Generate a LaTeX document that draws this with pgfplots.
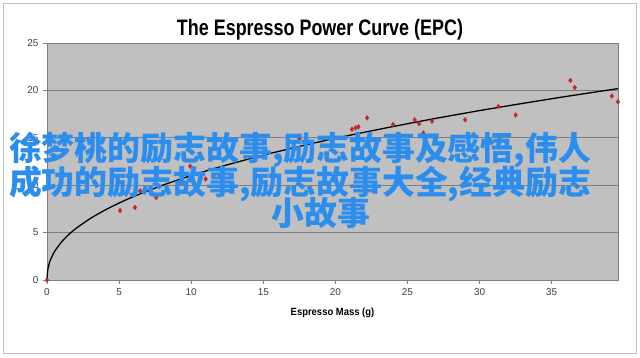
\documentclass[border=0pt]{standalone}
\usepackage{pgfplots}
\pgfplotsset{compat=1.18}
\usepackage{fontspec}
\usepackage{graphicx}
\setmainfont{Liberation Sans}
\newfontfamily\cjk{Noto Sans CJK SC}
\definecolor{plotbg}{HTML}{C0C0C0}
\definecolor{gridc}{HTML}{7E7E7E}
\definecolor{ptred}{HTML}{C0282D}
\definecolor{wm}{HTML}{2B8DEE}
\begin{document}
\begin{tikzpicture}
\fill[white] (0bp,0bp) rectangle (640bp,358bp);
\draw[black!25, line width=1bp] (3.5bp,4bp) rectangle (636bp,354.5bp);
\begin{axis}[
  at={(47bp,78bp)}, anchor=south west,
  width=571bp, height=237bp, scale only axis,
  xmin=0, xmax=39.6, ymin=0, ymax=25,
  axis background/.style={fill=plotbg},
  axis line style={draw=gridc, line width=0.7bp},
  xtick={0,5,...,35}, ytick={0,5,...,25},
  ymajorgrids, grid style={draw=gridc, line width=0.7bp},
  tick style={draw=gridc, line width=0.6bp},
  tick align=outside, major tick length=4bp,
  xtick pos=bottom, ytick pos=left,
  ticklabel style={font=\fontsize{10}{12}\selectfont, text=black!75},
  /pgf/number format/assume math mode=true,
  xticklabel style={yshift=-1bp},
  yticklabel style={xshift=-1bp},
  clip=false,
]
\addplot[black, line width=1.3bp, smooth, tension=0.3] coordinates {
(0,0) (0.05,1.07) (0.2,1.97) (0.5,2.95) (1,4.0) (1.5,4.78) (2,5.43) (3,6.49)
(4,7.36) (5,8.12) (6,8.80) (8,9.99) (10,11.02) (12,11.94) (15,13.17) (18,14.27)
(21,15.27) (24,16.19) (27,17.06) (30,17.87) (33,18.63) (36,19.36) (39.6,20.19)
};
\addplot[only marks, mark=diamond*, mark size=2.4bp, color=ptred] coordinates {
(0,0) (5.07,7.33) (6.1,7.65) (6.46,9.4) (7.57,8.7) (7.7,10.0) (9.93,12.0)
(11.0,10.65) (12.0,11.0) (17.5,14.9) (18.4,13.8) (21.15,15.9) (21.4,16.05)
(21.6,16.15) (22.2,17.1) (24.0,16.4) (25.5,16.9) (25.8,16.5) (26.1,15.5)
(26.7,16.75) (29.0,16.9) (31.3,18.3) (32.5,17.4) (36.3,21.05) (36.6,20.3)
(39.17,19.4) (39.6,18.8)
};
\end{axis}
\node[anchor=base, font=\bfseries\fontsize{18}{20}\selectfont] at (320bp,322bp)
  {\scalebox{1}[1.25]{The Espresso Power Curve (EPC)}};
\node[anchor=base, font=\bfseries\fontsize{9.5}{11}\selectfont] at (332.5bp,42.5bp)
  {\scalebox{1}[1.1]{Espresso Mass (g)}};
\node[anchor=base, text=wm, font=\cjk\bfseries\fontsize{33}{34}\selectfont, inner sep=0pt] at (300bp,197.5bp)
  {徐梦桃的励志故事,励志故事及感悟,伟人};
\node[anchor=base, text=wm, font=\cjk\bfseries\fontsize{33}{34}\selectfont, inner sep=0pt] at (300bp,163.5bp)
  {成功的励志故事,励志故事大全,经典励志};
\node[anchor=base, text=wm, font=\cjk\bfseries\fontsize{33}{34}\selectfont, inner sep=0pt] at (321bp,132.5bp)
  {小故事};
\end{tikzpicture}
\end{document}
